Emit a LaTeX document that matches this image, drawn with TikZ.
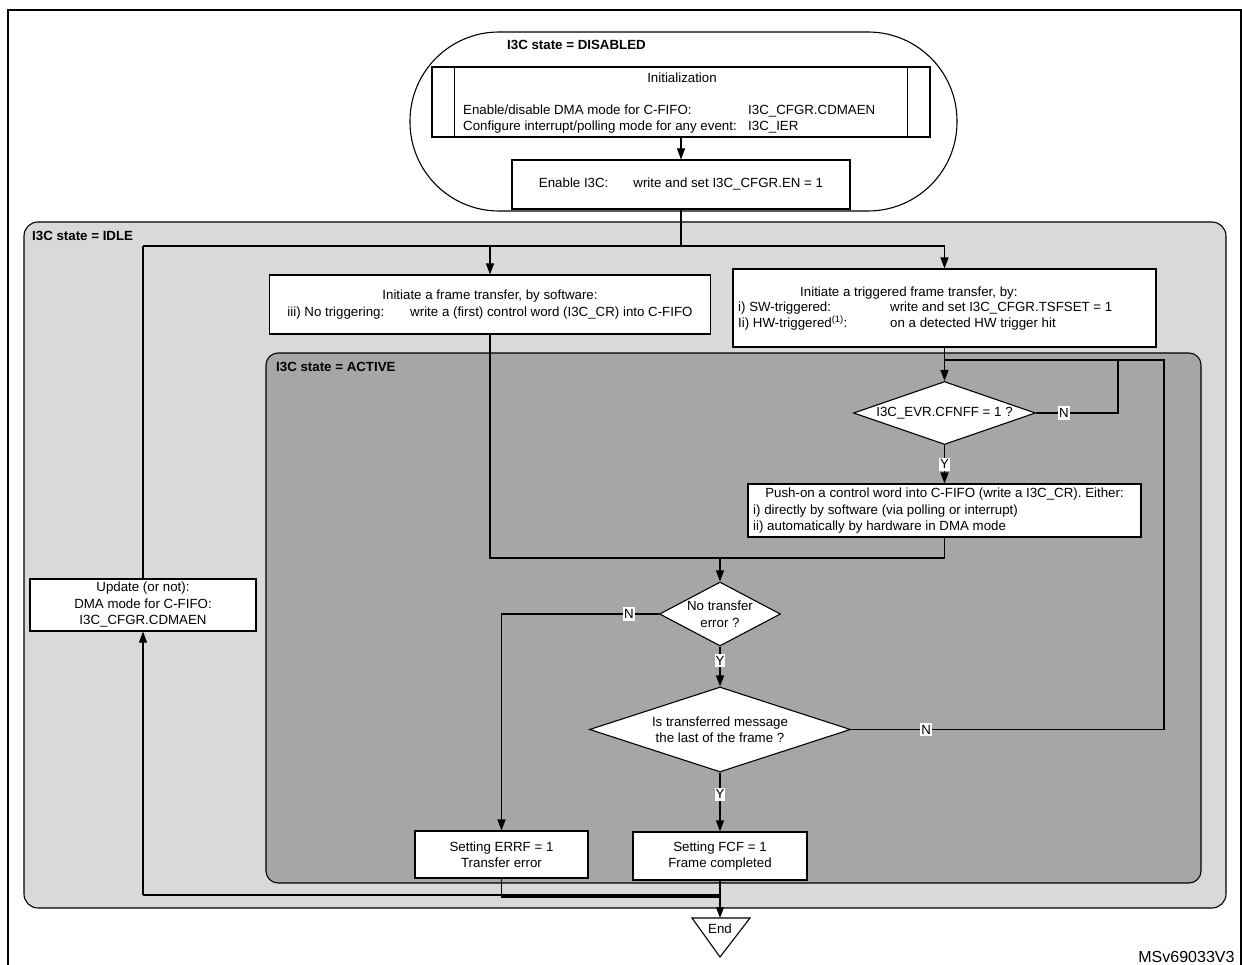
\documentclass[tikz,border=0pt]{standalone}
\usepackage{fontspec}
\setmainfont{Liberation Sans}
\usetikzlibrary{arrows.meta,shapes.geometric}
\definecolor{idlegray}{RGB}{217,217,217}
\definecolor{activegray}{RGB}{166,166,166}
\newcommand{\flowfont}{\fontsize{13.3}{16.5}\selectfont}
\tikzset{
  box/.style={draw, fill=white, line width=1.1pt, align=center, inner sep=0pt},
  cond/.style={diamond, draw, fill=white, line width=1.1pt, align=center, inner sep=0pt},
  flow/.style={line width=1.1pt},
  arr/.style={line width=1.1pt, -{Triangle[length=11pt,width=8pt]}},
  yn/.style={fill=white, inner xsep=1pt, inner ysep=2pt},
  region/.style={draw, line width=1.1pt},
  txt/.style={anchor=west, align=left, inner sep=0pt},
  statelbl/.style={anchor=west, inner sep=0pt, font=\flowfont\bfseries},
}
\begin{document}
\begin{tikzpicture}[x=1pt, y=-1pt, font=\flowfont]
  \useasboundingbox (0,0) rectangle (1242,965);
  \draw[line width=2pt] (8,10) rectangle (1241,1000);
  % state regions
  \draw[region, fill=white, rounded corners=89pt] (410,32) rectangle (957,211);
  \node[statelbl] (dislbl) at (507,45) {I3C state = DISABLED};
  \draw[region, fill=idlegray, rounded corners=14pt] (24,222) rectangle (1226,908);
  \node[statelbl] (idlelbl) at (32,236) {I3C state = IDLE};
  \draw[region, fill=activegray, rounded corners=12pt] (266,353) rectangle (1201,883);
  \node[statelbl] (actlbl) at (276,367) {I3C state = ACTIVE};

  % disabled
  \node[box, minimum width=498pt, minimum height=70pt] (init) at (681,102) {};
  \draw[flow] ([xshift=23pt]init.north west) -- ([xshift=23pt]init.south west);
  \draw[flow] ([xshift=-23pt]init.north east) -- ([xshift=-23pt]init.south east);
  \node (initlbl) at (682,78) {Initialization};
  \node[txt] (initA) at (463,119) {Enable/disable DMA mode for C-FIFO:\\Configure interrupt/polling mode for any event:};
  \node[txt] (initB) at (748,119) {I3C\_CFGR.CDMAEN\\I3C\_IER};
  \node[box, minimum width=338pt, minimum height=49pt] (enable) at (681,184.5) {Enable I3C:\hspace{25pt}write and set I3C\_CFGR.EN = 1};
  \draw[arr] (init.south) -- (enable.north);

  % idle
  \coordinate (fork) at (143,246);
  \node[box, minimum width=441pt, minimum height=59pt] (sw) at (490,304.5) {Initiate a frame transfer, by software:\\iii) No triggering:\hspace{26pt}write a (first) control word (I3C\_CR) into C-FIFO};
  \node[box, minimum width=423pt, minimum height=78pt] (trig) at (944.5,308) {};
  \node[txt] (trigA) at (800,293) {Initiate a triggered frame transfer, by:};
  \node[txt] (trigB) at (738,316) {i) SW-triggered:\\Ii) HW-triggered\textsuperscript{(1)}:};
  \node[txt] (trigC) at (890,316) {write and set I3C\_CFGR.TSFSET = 1\\on a detected HW trigger hit};
  \node[box, minimum width=226pt, minimum height=52pt] (upd) at (143,605) {Update (or not):\\DMA mode for C-FIFO:\\I3C\_CFGR.CDMAEN};
  \draw[flow] (enable.south) -- (enable.south |- fork);
  \draw[flow] (fork) -- (fork -| trig.north);
  \draw[arr] (fork -| sw.north) -- (sw.north);
  \draw[arr] (fork -| trig.north) -- (trig.north);

  % active
  \node[cond, aspect=2.89, minimum width=182pt, minimum height=63pt] (cfnff) at (944.5,413) {I3C\_EVR.CFNFF = 1 ?};
  \node[box, minimum width=393pt, minimum height=53pt] (push) at (944.5,510.5) {};
  \node (pushA) at (944.5,494.5) {Push-on a control word into C-FIFO (write a I3C\_CR). Either:};
  \node[txt] (pushB) at (753,519) {i) directly by software (via polling or interrupt)\\ii) automatically by hardware in DMA mode};
  \node[cond, aspect=1.89, minimum width=121pt, minimum height=64pt] (noerr) at (720,614) {No transfer\\error ?};
  \node[cond, aspect=3.07, minimum width=261pt, minimum height=85pt] (last) at (720,729.5) {Is transferred message\\the last of the frame ?};
  \node[box, minimum width=173pt, minimum height=47pt] (errf) at (501.5,854.5) {Setting ERRF = 1\\Transfer error};
  \node[box, minimum width=174pt, minimum height=48pt] (fcf) at (720,856) {Setting FCF = 1\\Frame completed};

  \coordinate (loopA) at (1118,360);
  \coordinate (loopB) at (1164,360);
  \coordinate (mrg) at (720,558);
  \draw[arr] (trig.south) -- (cfnff.north);
  \draw[flow] (cfnff.east) -- node[yn, pos=0.34] {N} (cfnff.east -| loopA) -- (loopA) -- (trig.south |- loopA);
  \draw[flow] (last.east) -- node[yn, pos=0.24] {N} (last.east -| loopB) -- (loopB) -- (loopA);
  \draw[arr] (cfnff.south) -- node[yn] {Y} (push.north);
  \draw[flow] (sw.south) -- (sw.south |- mrg) -- (push.south |- mrg) -- (push.south);
  \draw[arr] (mrg) -- (noerr.north);
  \draw[arr] (noerr.west) -- node[yn, pos=0.19] {N} (noerr.west -| errf.north) -- (errf.north);
  \draw[arr] (noerr.south) -- node[yn, pos=0.35] {Y} (last.north);
  \draw[arr] (last.south) -- node[yn, pos=0.37] {Y} (fcf.north);

  % end
  \coordinate (endtop) at (720,918);
  \coordinate (ret) at (143,895);
  \coordinate (errj) at (720,897);
  \draw[flow, fill=white] (692,918) -- (750,918) -- (720,957) -- cycle;
  \node (endlbl) at (720,929) {End};
  \draw[flow] (errf.south) -- (errf.south |- errj) -- (errj);
  \draw[flow] (fcf.south |- ret) -- (ret);
  \draw[arr] (ret) -- (upd.south);
  \draw[flow] (upd.north) -- (fork);
  \draw[arr] (fcf.south) -- (endtop);
  \node[anchor=east, font=\fontsize{16}{19}\selectfont] (msv) at (1238,957) {MSv69033V3};
\end{tikzpicture}
\end{document}
